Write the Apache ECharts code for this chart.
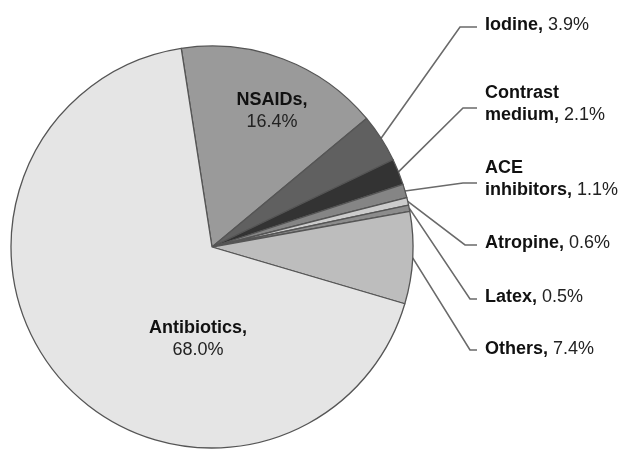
<!DOCTYPE html>
<html>
<head>
<meta charset="utf-8">
<script src="https://cdn.jsdelivr.net/npm/echarts@6/dist/echarts.min.js"></script>
<style>
  html, body { margin: 0; padding: 0; background: #fff; }
  #main { width: 622px; height: 449px; }
</style>
</head>
<body>
<div id="main"></div>
<script>
// data, clockwise from the top
const names = ['NSAIDs', 'Iodine', 'Contrast\nmedium', 'ACE\ninhibitors', 'Atropine', 'Latex', 'Others', 'Antibiotics'];
const values = [16.4, 3.9, 2.1, 1.1, 0.6, 0.5, 7.4, 68.0];
const colors = ['#9a9a9a', '#606060', '#333333', '#858585', '#cccccc', '#8c8c8c', '#bdbdbd', '#e5e5e5'];
const inside = [true, false, false, false, false, false, false, true];

// label placement
const labelX = [272, 485, 485, 485, 485, 485, 485, 198];
const labelY = [111, 25, 104, 179, 243, 297, 349, 339];
const lineY = [0, 27, 108, 183, 245, 299, 350, 0];
const bendX = [0, 460, 463, 463, 465, 470, 470, 0];
const endX = 477;

var myChart = echarts.init(document.querySelector('#main'));

const pieData = names.map((n, i) => ({
  name: n,
  value: values[i],
  itemStyle: { color: colors[i] },
  labelLine: { show: !inside[i] },
  label: inside[i]
    ? { position: 'inside', align: 'center', formatter: p => '{b|' + p.name + ',}\n{c|' + p.value.toFixed(1) + '%}' }
    : { position: 'outside', align: 'left', formatter: p => '{b|' + p.name + ',} {c|' + p.value.toFixed(1) + '%}' }
}));

var option = {
  animation: false,
  series: [
    {
      type: 'pie',
      center: [212, 247],
      radius: 201,
      startAngle: 98.8,
      clockwise: true,
      avoidLabelOverlap: false,
      itemStyle: { borderColor: '#555555', borderWidth: 1.3 },
      label: {
        color: '#111',
        fontFamily: 'Liberation Sans, Arial, sans-serif',
        fontSize: 18,
        lineHeight: 22,
        rich: {
          b: { fontWeight: 'bold', fontSize: 18, lineHeight: 22, color: '#111' },
          c: { fontSize: 18, lineHeight: 22, color: '#222' }
        }
      },
      labelLine: {
        length: 20,
        length2: 20,
        lineStyle: { color: '#6a6a6a', width: 1.6 }
      },
      labelLayout: function (params) {
        const i = params.dataIndex;
        const out = {
          x: labelX[i],
          y: labelY[i],
          align: inside[i] ? 'center' : 'left',
          verticalAlign: 'middle'
        };
        if (!inside[i] && params.labelLinePoints) {
          const p0 = params.labelLinePoints[0];
          out.labelLinePoints = [p0, [bendX[i], lineY[i]], [endX, lineY[i]]];
        }
        return out;
      },
      data: pieData
    }
  ]
};
myChart.setOption(option);
</script>
</body>
</html>
